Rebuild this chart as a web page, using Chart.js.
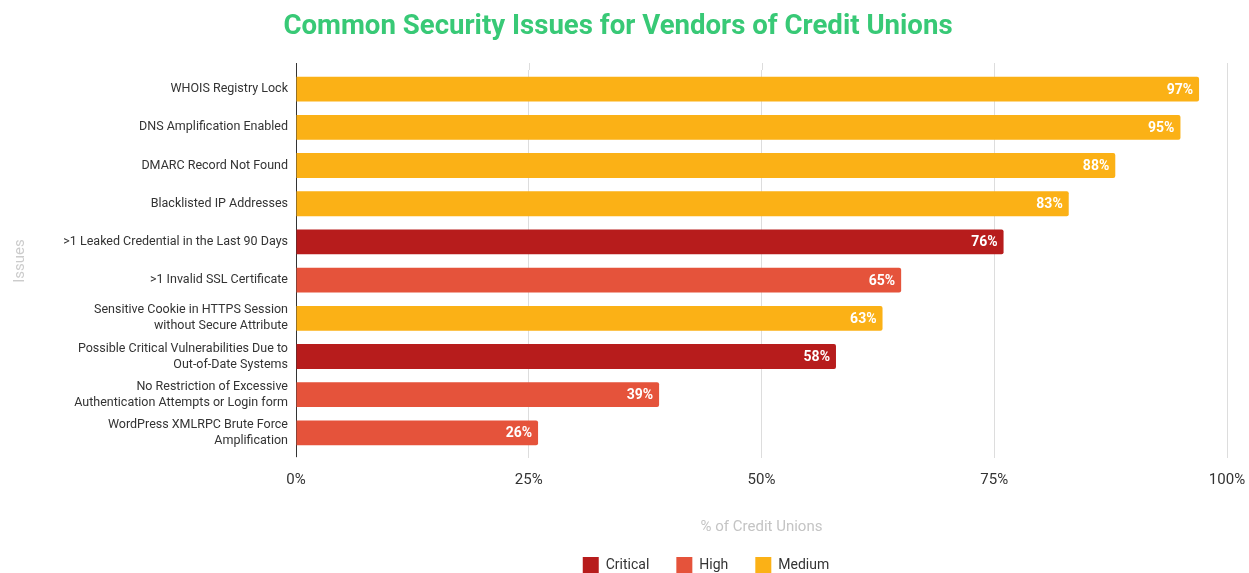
<!DOCTYPE html>
<html>
<head>
<meta charset="utf-8">
<script src="https://cdn.jsdelivr.net/npm/chart.js@4.4.1/dist/chart.umd.min.js"></script>
<style>
  html, body { margin: 0; padding: 0; background: #ffffff; }
  #wrap { width: 1249px; height: 573px; position: relative; }
</style>
</head>
<body>
<div id="wrap"><canvas id="chart"></canvas></div>
<script>
// Issue names (multi-line names are arrays of lines)
const issues = [
  'WHOIS Registry Lock',
  'DNS Amplification Enabled',
  'DMARC Record Not Found',
  'Blacklisted IP Addresses',
  '>1 Leaked Credential in the Last 90 Days',
  '>1 Invalid SSL Certificate',
  ['Sensitive Cookie in HTTPS Session', 'without Secure Attribute'],
  ['Possible Critical Vulnerabilities Due to', 'Out-of-Date Systems'],
  ['No Restriction of Excessive', 'Authentication Attempts or Login form'],
  ['WordPress XMLRPC Brute Force', 'Amplification']
];
// Share of credit unions affected (%)
const shares = [97, 95, 88, 83, 76, 65, 63, 58, 39, 26];
// Severity of each issue
const severity = ['Medium', 'Medium', 'Medium', 'Medium', 'Critical', 'High', 'Medium', 'Critical', 'High', 'High'];
const severityLevels = ['Critical', 'High', 'Medium'];
const severityColors = { Critical: '#b71c1c', High: '#e5533b', Medium: '#fbb116' };
const xTicks = [0, 25, 50, 75, 100];

const datasets = severityLevels.map(level => ({
  label: level,
  data: shares.map((v, i) => severity[i] === level ? v : null),
  backgroundColor: severityColors[level],
  borderRadius: 2,
  borderSkipped: 'start',
  barPercentage: 0.65,
  categoryPercentage: 1.0
}));

// Grid lines and the left axis line run a little past the plot area
const axisOverhang = {
  id: 'axisOverhang',
  beforeDatasetsDraw(chart) {
    const { ctx, chartArea, scales } = chart;
    const above = 7, below = 5;
    ctx.save();
    ctx.lineWidth = 1;
    ctx.strokeStyle = '#dddddd';
    scales.x.ticks.forEach(t => {
      if (t.value === 0) return;
      const x = Math.round(scales.x.getPixelForValue(t.value)) + 0.5;
      ctx.beginPath();
      ctx.moveTo(x, chartArea.top - above);
      ctx.lineTo(x, chartArea.top);
      ctx.stroke();
    });
    const x0 = Math.round(scales.x.getPixelForValue(0)) + 0.5;
    ctx.strokeStyle = '#333333';
    ctx.beginPath();
    ctx.moveTo(x0, chartArea.top - above);
    ctx.lineTo(x0, chartArea.bottom + below);
    ctx.stroke();
    ctx.restore();
  }
};

// White value labels inside the end of each bar
const valueLabels = {
  id: 'valueLabels',
  afterDatasetsDraw(chart) {
    const ctx = chart.ctx;
    ctx.save();
    ctx.font = 'bold 14px Roboto';
    ctx.fillStyle = '#ffffff';
    ctx.textAlign = 'right';
    ctx.textBaseline = 'middle';
    chart.data.datasets.forEach((ds, di) => {
      const meta = chart.getDatasetMeta(di);
      meta.data.forEach((bar, i) => {
        const v = ds.data[i];
        if (v === null || v === undefined) return;
        ctx.fillText(v + '%', bar.x - 6, bar.y + 1);
      });
    });
    ctx.restore();
  }
};

// Moves the legend row to its place under the plot
const legendOffset = {
  id: 'legendOffset',
  afterLayout(chart) {
    const lg = chart.legend;
    if (!lg) return;
    lg.left += 88; lg.right += 88;
    lg.top -= 7; lg.bottom -= 7;
  }
};

new Chart(document.getElementById('chart'), {
  type: 'bar',
  data: { labels: issues, datasets },
  plugins: [axisOverhang, valueLabels, legendOffset],
  options: {
    indexAxis: 'y',
    responsive: true,
    maintainAspectRatio: false,
    animation: false,
    layout: { padding: { left: 9, right: 22, top: 0, bottom: -17 } },
    plugins: {
      title: {
        display: true,
        text: 'Common Security Issues for Vendors of Credit Unions',
        color: '#38c976',
        font: { family: 'Roboto', size: 27.6, weight: 'bold' },
        padding: { top: 11, bottom: 25.9 }
      },
      legend: {
        position: 'bottom',
        labels: {
          boxWidth: 16,
          boxHeight: 16,
          padding: 27,
          color: '#333333',
          font: { family: 'Roboto', size: 14 }
        }
      },
      tooltip: { enabled: false }
    },
    scales: {
      x: {
        stacked: true,
        min: 0,
        max: 100,
        afterBuildTicks(scale) { scale.ticks = xTicks.map(v => ({ value: v })); },
        afterFit(scale) {
          scale.height = 85;
          scale.paddingRight = 0;
          scale.paddingLeft = 0;
        },
        ticks: {
          color: '#333333',
          font: { family: 'Roboto', size: 15 },
          padding: 13,
          callback: v => v + '%'
        },
        grid: { color: '#dddddd', tickLength: 6, drawTicks: true },
        border: { display: false },
        title: {
          display: true,
          text: '% of Credit Unions',
          color: '#c4c4c4',
          font: { family: 'Roboto', size: 15 },
          padding: { top: 0, bottom: 1 }
        }
      },
      y: {
        stacked: true,
        afterFit(scale) { scale.width = 287; },
        ticks: {
          color: '#333333',
          font: { family: 'Roboto', size: 12.5, lineHeight: 1.28 },
          padding: 8,
          autoSkip: false
        },
        grid: { display: false, drawTicks: false },
        border: { display: false },
        title: {
          display: true,
          text: 'Issues',
          color: '#cccccc',
          font: { family: 'Roboto', size: 15 },
          padding: { top: 2, bottom: 0 }
        }
      }
    }
  }
});
</script>
</body>
</html>
